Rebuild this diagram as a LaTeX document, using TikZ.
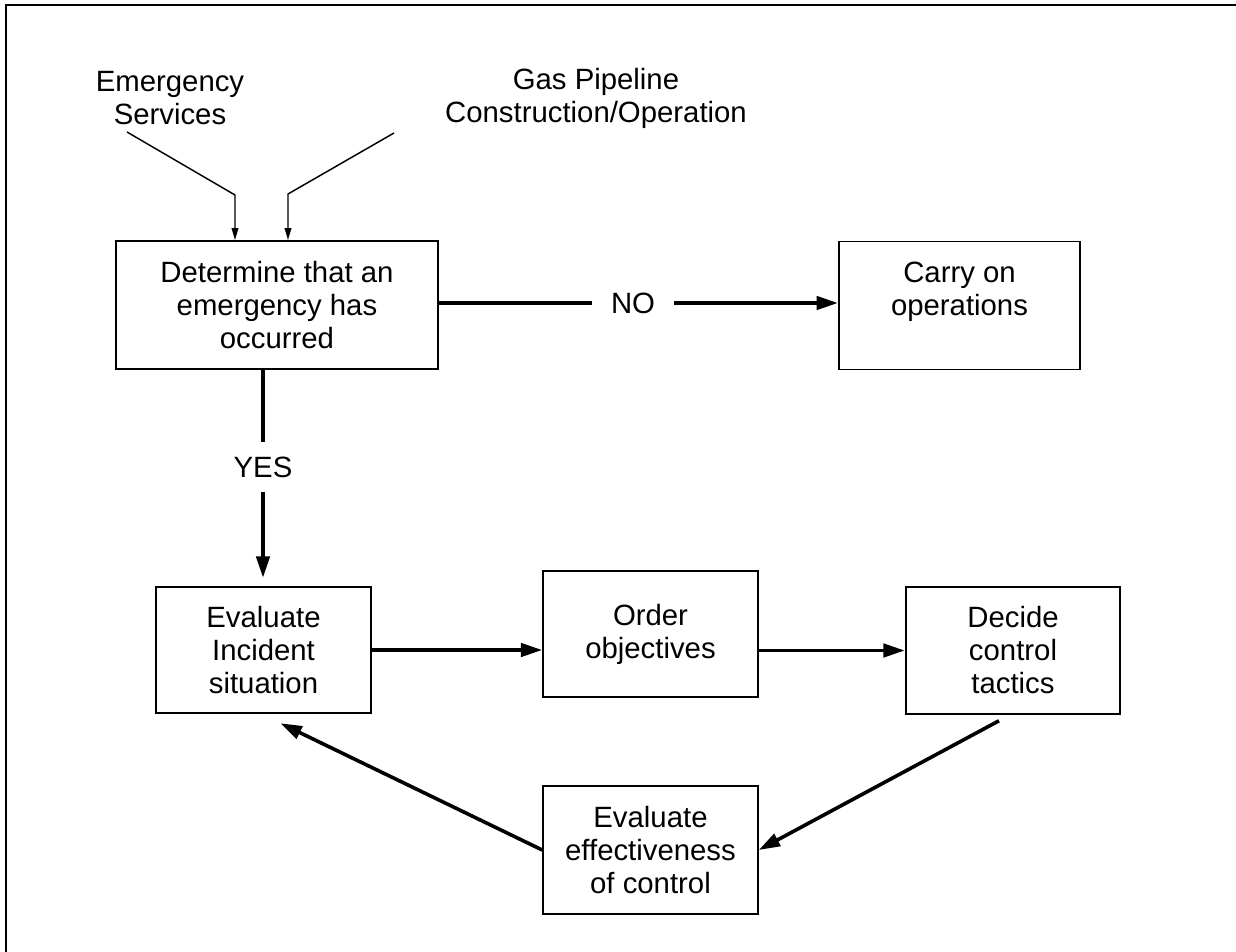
\documentclass[tikz,border=0pt]{standalone}
\usepackage{fontspec}
\setmainfont{Liberation Sans}
\usetikzlibrary{arrows.meta,calc}
\begin{document}
\begin{tikzpicture}[x=0.75pt,y=-0.75pt,
  txt/.style={font=\fontsize{22}{24.75}\selectfont, align=center, inner sep=0pt},
  box/.style={txt, draw, line width=1.4pt},
  widebox/.style={box, minimum width=241pt, minimum height=96pt},
  smallbox/.style={box, minimum width=161pt, minimum height=95pt},
  arr/.style={line width=2.7pt, -{Triangle[length=16pt,width=10pt]}},
  feed/.style={line width=1.1pt, -{Triangle[length=9pt,width=5pt]}},
  frame/.style={line width=1pt}
]
\useasboundingbox (0,0) rectangle (1236,952);
% outer frame (top and left visible)
\coordinate (fbl) at (6,952);
\coordinate (ftl) at (6,5);
\coordinate (ftr) at (1236,5);
\draw[frame] (fbl) -- (ftl) -- (ftr);

% source labels
\node[txt] (es) at (170,98) {Emergency\\Services};
\node[txt] (gp) at (596,98) {Gas Pipeline\\Construction/Operation};

% boxes
\node[widebox] (det) at (277,305) {Determine that an\\emergency has\\occurred};
\node[widebox, minimum width=181pt] (carry) at (959.5,305.5) {Carry on\\operations\\ };
\node[smallbox] (eval) at (263.5,650) {Evaluate\\Incident\\situation};
\node[smallbox] (order) at (650.5,634) {Order\\objectives};
\node[smallbox] (decide) at (1013,650.5) {Decide\\control\\tactics};
\node[smallbox, minimum height=96pt] (effect) at (650.5,850) {Evaluate\\effectiveness\\of control};

% decision labels
\node[txt, inner xsep=14pt] (no) at (633,303) {NO};
\node[txt, inner ysep=11pt] (yes) at (263,467) {YES};

% incoming feeds
\coordinate (es1) at (127,132);
\coordinate (es2) at (235,195);
\coordinate (gp1) at (394,133);
\coordinate (gp2) at (288,194);
\draw[feed] (es1) -- (es2) -- (es2 |- det.north);
\draw[feed] (gp1) -- (gp2) -- (gp2 |- det.north);

% NO branch
\draw[line width=2.7pt] (det.east |- no.west) -- (no.west);
\draw[arr] (no.east) -- (no.east -| carry.west);

% YES branch
\draw[line width=2.7pt] (yes |- det.south) -- (yes.north);
\draw[arr, shorten >=6pt] (yes.south) -- (yes.south |- eval.north);

% cycle
\draw[arr] (eval.east) -- (eval.east -| order.west);
\draw[arr] (decide.west -| order.east) -- (decide.west);
\coordinate (d1) at ($(decide.south)+(-14,6)$);
\draw[arr] (d1) -- (effect.east);
\coordinate (e1) at ($(eval.south)+(17,9)$);
\draw[arr] (effect.west) -- (e1);
\end{tikzpicture}
\end{document}
